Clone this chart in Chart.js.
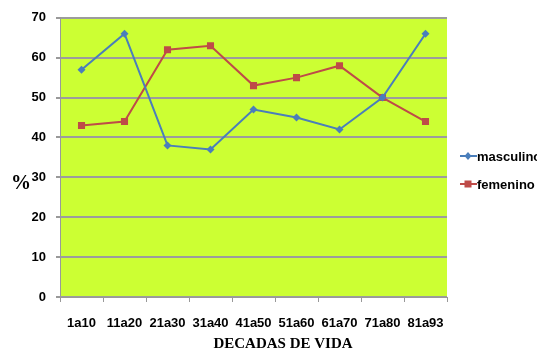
<!DOCTYPE html>
<html>
<head>
<meta charset="utf-8">
<script src="https://cdn.jsdelivr.net/npm/chart.js@4/dist/chart.umd.min.js"></script>
<style>
  html, body { margin: 0; padding: 0; background: #ffffff; }
  #wrap { width: 537px; height: 351px; position: relative; }
</style>
</head>
<body>
<div id="wrap"><canvas id="chart"></canvas></div>
<script>
// Age groups (decades of life)
const categories = ['1a10', '11a20', '21a30', '31a40', '41a50', '51a60', '61a70', '71a80', '81a93'];
// Percentage by sex in each group
const masculino = [57, 66, 38, 37, 47, 45, 42, 50, 66];
const femenino  = [43, 44, 62, 63, 53, 55, 58, 50, 44];
// Y-axis tick values
const yTicks = [0, 10, 20, 30, 40, 50, 60, 70];
// Axis captions
const xTitle = 'DECADAS DE VIDA';
const yTitle = '%';

const SANS = "'Liberation Sans Narrow', 'Liberation Sans', Arial, sans-serif";
const SERIF = "'Liberation Serif', 'Times New Roman', serif";
const BLUE = '#4A7EBB';
const RED = '#BE4B48';

// Fill the plotting area with the lime background
const plotBackground = {
  id: 'plotBackground',
  beforeDraw(chart) {
    const { ctx, chartArea: a } = chart;
    ctx.save();
    ctx.fillStyle = '#CCFF33';
    ctx.fillRect(a.left, a.top, a.right - a.left, a.bottom - a.top);
    ctx.restore();
  }
};

// Axis captions and the side legend with line + marker swatches
const annotations = {
  id: 'annotations',
  afterDraw(chart) {
    const { ctx } = chart;
    ctx.save();
    ctx.fillStyle = '#000';
    ctx.textAlign = 'center';
    ctx.textBaseline = 'middle';
    ctx.font = "bold 20px " + SERIF;
    ctx.fillText(yTitle, 21, 184);
    ctx.font = "bold 15px " + SERIF;
    ctx.fillText(xTitle, 283, 344);

    const rows = [156, 184];
    chart.data.datasets.forEach((ds, i) => {
      const y = rows[i];
      ctx.strokeStyle = ds.borderColor;
      ctx.lineWidth = 2;
      ctx.beginPath();
      ctx.moveTo(460, y);
      ctx.lineTo(477, y);
      ctx.stroke();
      ctx.fillStyle = ds.backgroundColor;
      if (ds.pointStyle === 'rect') {
        ctx.fillRect(464.5, y - 3.5, 7, 7);
      } else {
        ctx.beginPath();
        ctx.moveTo(468, y - 4);
        ctx.lineTo(471.5, y);
        ctx.lineTo(468, y + 4);
        ctx.lineTo(464.5, y);
        ctx.closePath();
        ctx.fill();
      }
      ctx.fillStyle = '#000';
      ctx.font = "bold 13px " + SANS;
      ctx.textAlign = 'left';
      ctx.textBaseline = 'middle';
      ctx.fillText(ds.label, 477, y + 1);
    });
    ctx.restore();
  }
};

new Chart(document.getElementById('chart'), {
  type: 'line',
  data: {
    labels: categories,
    datasets: [
      {
        label: 'masculino',
        data: masculino,
        borderColor: BLUE,
        backgroundColor: BLUE,
        borderWidth: 2,
        pointStyle: 'rectRot',
        pointRadius: 4,
        pointBorderWidth: 0,
        tension: 0
      },
      {
        label: 'femenino',
        data: femenino,
        borderColor: RED,
        backgroundColor: RED,
        borderWidth: 2,
        pointStyle: 'rect',
        pointRadius: 5,
        pointBorderWidth: 0,
        tension: 0
      }
    ]
  },
  options: {
    responsive: true,
    maintainAspectRatio: false,
    animation: false,
    devicePixelRatio: 1,
    layout: { padding: { top: 17, right: 90, left: 0, bottom: 0 } },
    plugins: {
      legend: { display: false },
      tooltip: { enabled: false }
    },
    scales: {
      x: {
        offset: true,
        grid: {
          offset: true,
          drawOnChartArea: false,
          drawTicks: true,
          tickLength: 5,
          color: '#999999'
        },
        border: { color: '#999999', width: 1 },
        ticks: {
          color: '#000',
          font: { family: SANS, size: 13, weight: 'bold' },
          padding: 14,
          maxRotation: 0,
          autoSkip: false
        },
        afterFit(scale) { scale.height = 54; }
      },
      y: {
        min: 0,
        max: 70,
        afterBuildTicks(scale) { scale.ticks = yTicks.map(v => ({ value: v })); },
        grid: {
          color: '#9C9C9C',
          lineWidth: 2,
          drawTicks: true,
          tickLength: 4,
          tickColor: '#999999'
        },
        border: { color: '#999999', width: 1 },
        ticks: {
          color: '#000',
          font: { family: SANS, size: 13, weight: 'bold' },
          padding: 10
        },
        afterFit(scale) { scale.width = 60; }
      }
    }
  },
  plugins: [plotBackground, annotations]
});
</script>
</body>
</html>
